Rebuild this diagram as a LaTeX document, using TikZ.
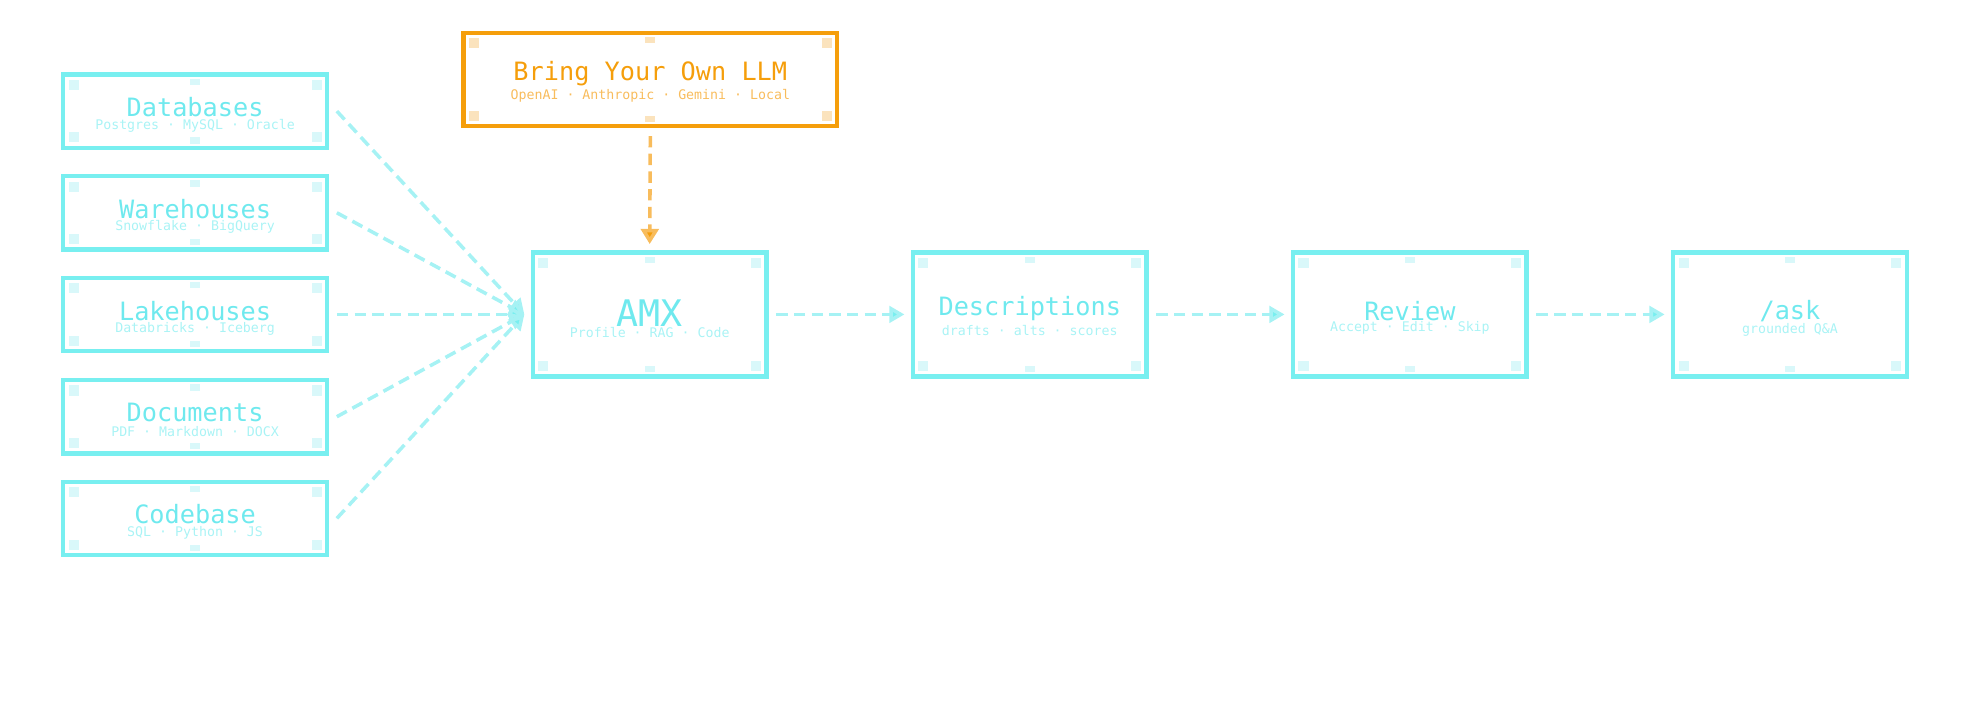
\documentclass[tikz,border=0pt]{standalone}
\usepackage{fontspec}
\setmonofont{DejaVu Sans Mono}
\usetikzlibrary{arrows.meta}
\definecolor{cy}{HTML}{78EFF0}
\definecolor{cyt}{HTML}{6FE9EE}
\definecolor{cys}{HTML}{A9F3F5}
\definecolor{cyd}{HTML}{D9F8FA}
\definecolor{cyl}{HTML}{A6F2F4}
\definecolor{or}{HTML}{F59E0B}
\definecolor{ors}{HTML}{F8BC5C}
\definecolor{ord}{HTML}{FBE3BD}
\tikzset{
  box/.style={draw=#1, line width=3.5pt, minimum width=209pt, minimum height=58pt, inner sep=0pt},
  big/.style={box=#1, minimum width=185pt, minimum height=98pt},
  ttl/.style={font=\ttfamily\fontsize{20}{22}\selectfont, text=#1, inner sep=0pt},
  sub/.style={font=\ttfamily\fontsize{10.5}{12}\selectfont, text=#1, inner sep=0pt},
  conn/.style={draw=cyl, line width=2.8pt, dash pattern=on 9pt off 5pt, -{Triangle[length=12pt,width=13pt,fill=cy]}},
}
\newcommand{\boxdeco}[2]{%
  \fill[#2] ([shift={(6pt,-6pt)}]#1.north west) rectangle ++(8pt,-8pt);
  \fill[#2] ([shift={(-6pt,-6pt)}]#1.north east) rectangle ++(-8pt,-8pt);
  \fill[#2] ([shift={(6pt,6pt)}]#1.south west) rectangle ++(8pt,8pt);
  \fill[#2] ([shift={(-6pt,6pt)}]#1.south east) rectangle ++(-8pt,8pt);
  \fill[#2] ([shift={(-4pt,-5pt)}]#1.north) rectangle ++(8pt,-5pt);
  \fill[#2] ([shift={(-4pt,5pt)}]#1.south) rectangle ++(8pt,5pt);
}
\begin{document}
\begin{tikzpicture}[x=1pt,y=-1pt]
\useasboundingbox (0,0) rectangle (1568,570);
% sources
\foreach \n/\y/\t/\s in {db/88/Databases/{Postgres · MySQL · Oracle},
  wh/168.5/Warehouses/{Snowflake · BigQuery},
  lh/249/Lakehouses/{Databricks · Iceberg},
  dc/330/Documents/{PDF · Markdown · DOCX},
  cb/410.5/Codebase/{SQL · Python · JS}}{
  \node[box=cy] (\n) at (154.5,\y) {};
  \boxdeco{\n}{cyd}
  \node[ttl=cyt] (\n-t) at (154.5,\y-3) {\t};
  \node[sub=cys] (\n-s) at (154.5,\y+11.5) {\s};
}
% LLM
\node[box=or, minimum width=296pt, minimum height=74pt] (llm) at (515,63) {};
\boxdeco{llm}{ord}
\node[ttl=or] (llm-t) at (515,58) {Bring Your Own LLM};
\node[sub=ors] (llm-s) at (515,76) {OpenAI · Anthropic · Gemini · Local};
% pipeline
\node[big=cy] (amx) at (514.5,249) {};
\boxdeco{amx}{cyd}
\node[ttl=cyt, font=\ttfamily\fontsize{29}{30}\selectfont] (amx-t) at (514.5,248) {AMX};
\node[sub=cys] (amx-s) at (514.5,263) {Profile · RAG · Code};
\node[big=cy] (desc) at (815.5,249) {};
\boxdeco{desc}{cyd}
\node[ttl=cyt] (desc-t) at (815.5,244) {Descriptions};
\node[sub=cys] (desc-s) at (815.5,262) {drafts · alts · scores};
\node[big=cy] (rev) at (1116.5,249) {};
\boxdeco{rev}{cyd}
\node[ttl=cyt] (rev-t) at (1116.5,246) {Review};
\node[sub=cys] (rev-s) at (1116.5,260) {Accept · Edit · Skip};
\node[big=cy] (ask) at (1417.5,249) {};
\boxdeco{ask}{cyd}
\node[ttl=cyt] (ask-t) at (1417.5,246) {/ask};
\node[sub=cys] (ask-s) at (1417.5,261) {grounded Q\&A};
% connectors
\coordinate (in) at ([xshift=-5pt]amx.west);
\foreach \n in {db,wh,lh,dc,cb}
  \draw[conn] ([xshift=6pt]\n.east) -- (in);
\draw[conn] ([xshift=6pt]amx.east) -- ([xshift=-5pt]desc.west);
\draw[conn] ([xshift=6pt]desc.east) -- ([xshift=-5pt]rev.west);
\draw[conn] ([xshift=6pt]rev.east) -- ([xshift=-5pt]ask.west);
\draw[draw=ors, line width=2.8pt, dash pattern=on 9pt off 5pt, -{Triangle[length=12pt,width=14pt,fill=or]}] ([yshift=-6pt]llm.south) -- ([yshift=5pt]amx.north);
\end{tikzpicture}
\end{document}
